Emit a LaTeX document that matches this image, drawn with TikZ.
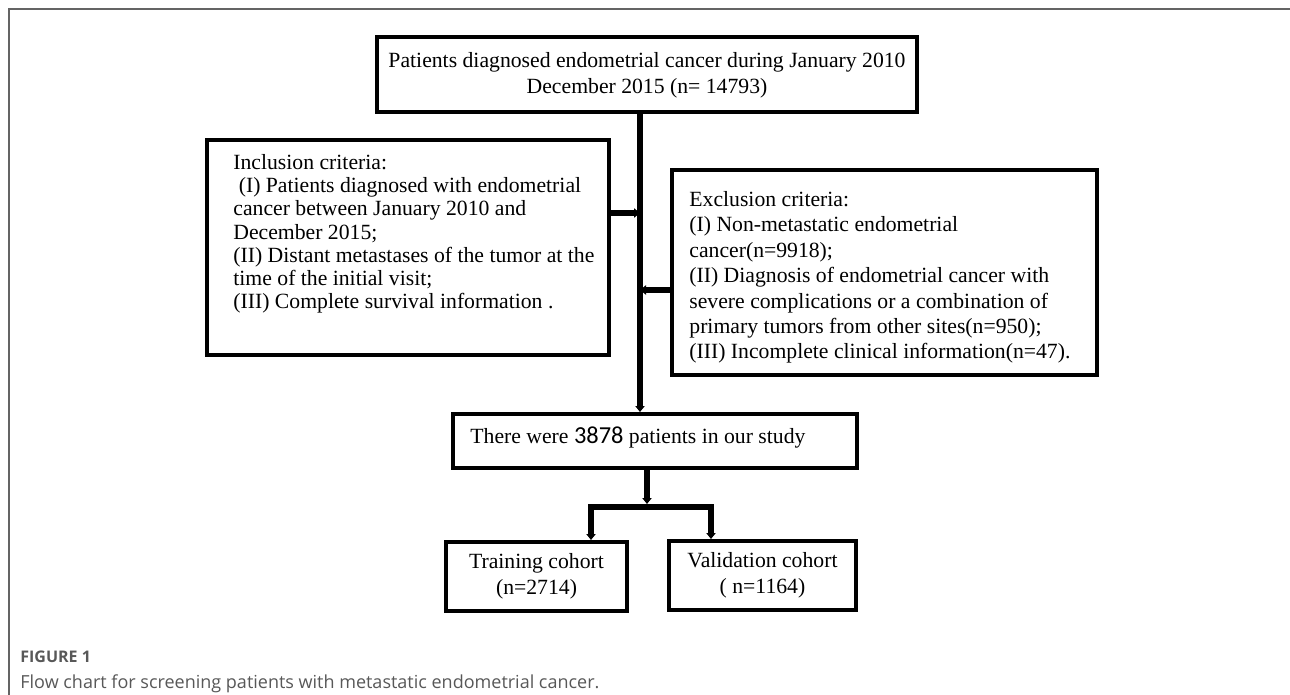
\documentclass[tikz,border=0pt]{standalone}
\usepackage{fontspec}
\setmainfont{Liberation Serif}
\newfontfamily\capfont{Open Sans}
\newfontfamily\numfont{Carlito}
\usetikzlibrary{arrows.meta}
\definecolor{capgrey}{RGB}{88,88,88}
\definecolor{framegrey}{RGB}{100,100,100}

\begin{document}
\begin{tikzpicture}[x=0.5pt, y=-0.5pt,
  box/.style={draw, line width=2pt, inner sep=0pt},
  crit/.style={align=left, inner sep=0pt, anchor=north west},
  conn/.style={line width=2.6pt, -{Triangle[length=3pt,width=4.6pt]}},
  bar/.style={line width=3pt, line cap=rect}]
\useasboundingbox (0,0) rectangle (1290,695);
\draw[framegrey, line width=0.75pt] (9,695) -- (9,9) -- (1290,9);

\node[box, minimum width=270pt, minimum height=37.5pt, align=center,
      font=\fontsize{10.85}{13}\selectfont] (top) at (647,75)
  {Patients diagnosed endometrial cancer during January 2010\\December 2015 (n= 14793)};

\node[box, minimum width=201pt, minimum height=107.5pt] (incl) at (408,247.5) {};
\node[crit, font=\fontsize{10.85}{11.6}\selectfont] (incltext) at (233,154)
  {Inclusion criteria:\\
   \hspace*{0.25em}(I) Patients diagnosed with endometrial\\
   cancer between January 2010 and\\
   December 2015;\\
   (II) Distant metastases of the tumor at the\\
   time of the initial visit;\\
   (III) Complete survival information .};

\node[box, minimum width=212.5pt, minimum height=102.5pt] (excl) at (884.5,272.5) {};
\node[crit, font=\fontsize{10.85}{12.7}\selectfont] (excltext) at (689,191)
  {Exclusion criteria:\\
   (I) Non-metastatic endometrial\\
   cancer(n=9918);\\
   (II) Diagnosis of endometrial cancer with\\
   severe complications or a combination of\\
   primary tumors from other sites(n=950);\\
   (III) Incomplete clinical information(n=47).};

\node[box, minimum width=202pt, minimum height=27pt] (study) at (655,441) {};
\node[anchor=base west, inner sep=0pt, font=\fontsize{10.85}{13}\selectfont] (studytext) at (470,443)
  {There were {\numfont\fontsize{12.2}{13}\selectfont 3878} patients in our study};

\node[box, minimum width=90.5pt, minimum height=34.5pt, align=center,
      font=\fontsize{10.85}{13}\selectfont] (train) at (536.5,576.5)
  {Training cohort\\(n=2714)};
\node[box, minimum width=93.5pt, minimum height=34.5pt, align=center,
      font=\fontsize{10.85}{13}\selectfont] (valid) at (762.5,575.5)
  {Validation cohort\\( n=1164)};

\coordinate (spine) at (640,0);
\coordinate (fork) at (647,507);
\coordinate (lfork) at (591,507);
\coordinate (rfork) at (711,507);

\draw[conn] (spine |- top.south) -- (spine |- study.north);
\draw[conn] (incl.east |- 0,213) -- (spine |- 0,213);
\draw[conn] (excl.west |- 0,290) -- (spine |- 0,290);
\draw[conn] (study.south -| fork) -- ([yshift=1.5pt]fork);
\draw[bar] (lfork) -- (rfork);
\draw[conn] (lfork) -- (lfork |- train.north);
\draw[conn] (rfork) -- (rfork |- valid.north);

\node[anchor=base west, inner sep=0pt, text=capgrey,
      font=\capfont\bfseries\fontsize{8}{9}\selectfont] (figno) at (20,662) {FIGURE 1};
\node[anchor=base west, inner sep=0pt, text=capgrey,
      font=\capfont\fontsize{9}{11}\selectfont] (caption) at (20,688)
  {Flow chart for screening patients with metastatic endometrial cancer.};
\end{tikzpicture}
\end{document}
